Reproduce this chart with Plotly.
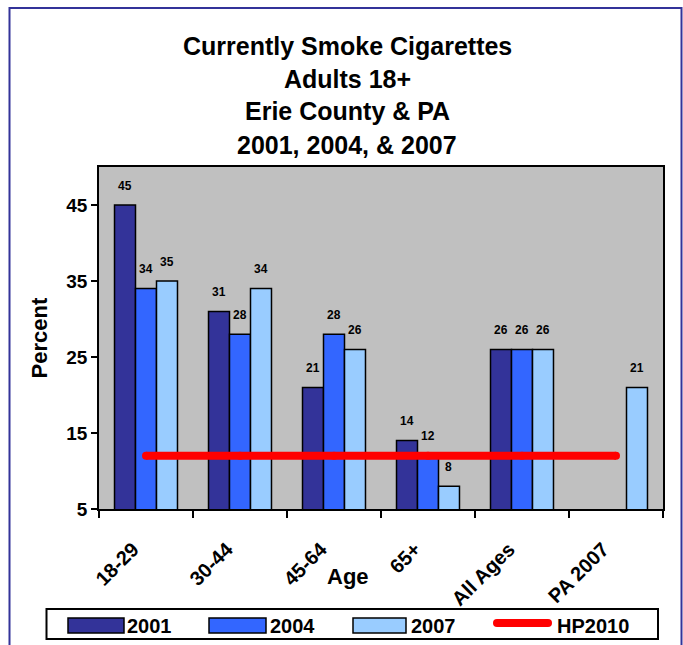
import plotly.graph_objects as go

# ---------------- data ----------------
categories = ["18-29", "30-44", "45-64", "65+", "All Ages", "PA 2007"]
series_names = ["2001", "2004", "2007"]
values_2001 = [45, 31, 21, 14, 26, None]
values_2004 = [34, 28, 28, 12, 26, None]
values_2007 = [35, 34, 26, 8, 26, 21]
hp2010_name = "HP2010"
hp2010_values = [12, 12, 12, 12, 12, 12]
y_ticks = [5, 15, 25, 35, 45]
title_lines = ["Currently Smoke Cigarettes", "Adults 18+", "Erie County & PA", "2001, 2004, & 2007"]

# ---------------- style ----------------
W, H = 683, 645
L, R, T, B = 99, 663, 167, 509
colors = ["#333399", "#3366FF", "#99CCFF"]
red = "#FF0000"
FONT = "Liberation Sans, Arial, Helvetica, sans-serif"
BARGAP = 0.33


def px(x):
    return (x - L) / (R - L)


def py(y):
    return (B - y) / (B - T)


series_values = [values_2001, values_2004, values_2007]

fig = go.Figure()
for name, vals, col in zip(series_names, series_values, colors):
    fig.add_trace(go.Bar(
        name=name, x=categories, y=vals,
        marker=dict(color=col, line=dict(color="black", width=1.5)),
        showlegend=False, hoverinfo="x+y+name",
    ))

fig.add_trace(go.Scatter(
    name=hp2010_name, x=categories, y=hp2010_values,
    mode="lines+markers",
    line=dict(color=red, width=8),
    marker=dict(color=red, size=8, line=dict(width=0)),
    showlegend=False,
))

annotations = []
# bar value labels
cat_w = (R - L) / len(categories)
bar_w = cat_w * (1 - BARGAP) / len(series_names)
for i, vals in enumerate(series_values):
    for c, v in zip(categories, vals):
        if v is None:
            continue
        annotations.append(dict(
            x=c, y=v, xref="x", yref="y", text=str(v), showarrow=False,
            xanchor="center", yanchor="bottom",
            xshift=(i - (len(series_names) - 1) / 2) * bar_w, yshift=10.5,
            font=dict(family=FONT, size=12, color="black", weight="bold"),
        ))

# title lines
title_y = [45.8, 79, 110.7, 145]
for line, yy in zip(title_lines, title_y):
    annotations.append(dict(
        x=px(347), y=py(yy), xref="paper", yref="paper", text=line,
        showarrow=False, xanchor="center", yanchor="middle",
        font=dict(family=FONT, size=25, color="black", weight="bold"),
    ))

# axis titles
annotations.append(dict(
    x=px(38.5), y=py(338), xref="paper", yref="paper", text="Percent",
    showarrow=False, textangle=-90, xanchor="center", yanchor="middle",
    font=dict(family=FONT, size=22, color="black", weight="bold"),
))
annotations.append(dict(
    x=px(348), y=py(576), xref="paper", yref="paper", text="Age",
    showarrow=False, xanchor="center", yanchor="middle",
    font=dict(family=FONT, size=22, color="black", weight="bold"),
))

shapes = []
# outer blue frame
shapes.append(dict(type="rect", xref="paper", yref="paper",
                   x0=px(9.5), x1=px(681.5), y0=py(660), y1=py(8),
                   line=dict(color="#333399", width=2), layer="below"))

# custom legend
shapes.append(dict(type="rect", xref="paper", yref="paper",
                   x0=px(46.5), x1=px(658), y0=py(639), y1=py(609),
                   line=dict(color="black", width=2), fillcolor="white"))
swatch_x = [(68, 124), (209, 266), (353, 406)]
text_x = [125, 268, 409]
for (x0, x1), tx, name, col in zip(swatch_x, text_x, series_names, colors):
    shapes.append(dict(type="rect", xref="paper", yref="paper",
                       x0=px(x0), x1=px(x1), y0=py(633), y1=py(618),
                       line=dict(color="black", width=1.5), fillcolor=col))
    annotations.append(dict(
        x=px(tx), y=py(626), xref="paper", yref="paper", text=name,
        showarrow=False, xanchor="left", yanchor="middle",
        font=dict(family=FONT, size=20, color="black", weight="bold"),
    ))
shapes.append(dict(type="line", xref="paper", yref="paper",
                   x0=px(497), x1=px(548), y0=py(623), y1=py(623),
                   line=dict(color=red, width=8)))
for cx in (497, 548):
    shapes.append(dict(type="circle", xref="paper", yref="paper",
                       x0=px(cx - 4), x1=px(cx + 4), y0=py(627), y1=py(619),
                       line=dict(width=0), fillcolor=red))
annotations.append(dict(
    x=px(555), y=py(626), xref="paper", yref="paper", text=hp2010_name,
    showarrow=False, xanchor="left", yanchor="middle",
    font=dict(family=FONT, size=20, color="black", weight="bold"),
))

fig.update_layout(
    width=W, height=H,
    margin=dict(l=L, r=W - R, t=T, b=H - B, pad=0),
    paper_bgcolor="white", plot_bgcolor="#C0C0C0",
    barmode="group", bargap=BARGAP, bargroupgap=0,
    showlegend=False,
    annotations=annotations, shapes=shapes,
    font=dict(family=FONT, color="black"),
)
fig.update_xaxes(
    type="category", showgrid=False, zeroline=False,
    showline=True, mirror=True, linecolor="black", linewidth=1.5,
    ticks="outside", ticklen=7, tickwidth=1.5, tickcolor="black",
    tickson="boundaries", tickangle=-45, ticklabelstandoff=19,
    ticklabelshift=-13,
    tickfont=dict(family=FONT, size=20, color="black", weight="bold"),
)
fig.update_yaxes(
    range=[5, 50], tickvals=y_ticks, showgrid=False, zeroline=False,
    showline=True, mirror=True, linecolor="black", linewidth=1.5,
    ticks="outside", ticklen=6, tickwidth=1.5, tickcolor="black",
    tickfont=dict(family=FONT, size=19, color="black", weight="bold"),
)

fig.write_html("out.html")
